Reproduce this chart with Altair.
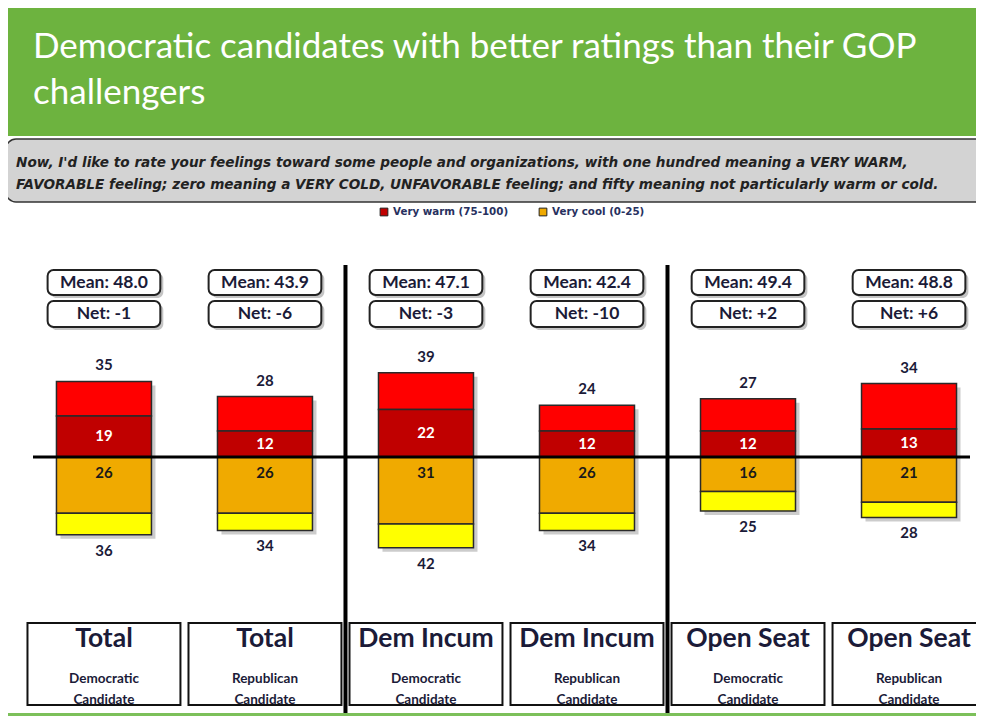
import altair as alt
import pandas as pd

# ---------------- data ----------------
groups = ["Total", "Total", "Dem Incum", "Dem Incum", "Open Seat", "Open Seat"]
candidates = ["Democratic", "Republican", "Democratic", "Republican", "Democratic", "Republican"]
cand_line2 = ["Candidate"] * 6
warm_total = [35, 28, 39, 24, 27, 34]
very_warm = [19, 12, 22, 12, 12, 13]
very_cool = [26, 26, 31, 26, 16, 21]
cool_total = [36, 34, 42, 34, 25, 28]
means = [48.0, 43.9, 47.1, 42.4, 49.4, 48.8]
nets = ["-1", "-6", "-3", "-10", "+2", "+6"]
separators = [1.5, 3.5]

title_lines = ["Democratic candidates with better ratings than their GOP", "challengers"]
subtitle_lines = [
    "Now, I'd like to rate your feelings toward some people and organizations, with one hundred meaning a VERY WARM,",
    "FAVORABLE feeling; zero meaning a VERY  COLD, UNFAVORABLE feeling; and fifty meaning not particularly warm or cold.",
]
legend_labels = ["Very warm (75-100)", "Very cool (0-25)"]
legend_colors = ["#c00000", "#f0aa00"]

# ---------------- layout ----------------
W, H = 968, 708
FONT = "Lato"
NAVY = "#1b1b38"

df = pd.DataFrame({
    "idx": list(range(6)),
    "group": groups,
    "cand": candidates,
    "cand2": cand_line2,
    "warm_total": warm_total,
    "very_warm": very_warm,
    "very_cool": very_cool,
    "cool_total": cool_total,
    "mean_label": ["Mean: %.1f" % m for m in means],
    "net_label": ["Net: " + n for n in nets],
})

xs = alt.Scale(domain=[-0.596, 5.416], nice=False, zero=False)
ys = alt.Scale(domain=[-119.9, 207.87], nice=False, zero=False)

base = alt.Chart(df).transform_calculate(
    xl="datum.idx - 0.295", xr="datum.idx + 0.295",
    ml="datum.idx - 0.35", mr="datum.idx + 0.35",
    bl="datum.idx - 0.475", br="datum.idx + 0.475",
    ncool="-datum.very_cool", ntot="-datum.cool_total",
    vwmid="datum.very_warm / 2", zero="0",
)

X = lambda f: alt.X(f, scale=xs, axis=None)
Y = lambda f: alt.Y(f, scale=ys, axis=None)

one = pd.DataFrame({"a": [0]})

header = alt.Chart(one).mark_rect(color="#6db33f").encode(
    x=alt.value(-4), x2=alt.value(W + 10), y=alt.value(0), y2=alt.value(128))

title_df = pd.DataFrame({"t": title_lines, "yy": [39, 85]})
title = alt.Chart(title_df).mark_text(
    align="left", baseline="middle", font=FONT, fontSize=35, color="white"
).encode(x=alt.value(25), y=alt.Y("yy:Q", scale=None, axis=None), text="t:N")

greybox = alt.Chart(one).mark_rect(
    fill="#d3d3d3", stroke="#333333", strokeWidth=1.5, cornerRadius=10
).encode(x=alt.value(-2), x2=alt.value(W + 20), y=alt.value(131), y2=alt.value(194))

sub_df = pd.DataFrame({"t": subtitle_lines, "yy": [155, 177]})
subtitle = alt.Chart(sub_df).mark_text(
    align="left", baseline="middle", font="DejaVu Sans", fontSize=13.6,
    fontStyle="italic", fontWeight="bold", color="#222222"
).encode(x=alt.value(8), y=alt.Y("yy:Q", scale=None, axis=None), text="t:N")

leg_df = pd.DataFrame({"lab": legend_labels, "col": legend_colors,
                       "sx": [376, 535], "tx": [385, 544]})
leg_sq = alt.Chart(leg_df).mark_square(size=60, stroke="#222", strokeWidth=1, opacity=1).encode(
    x=alt.X("sx:Q", scale=None, axis=None), y=alt.value(204),
    fill=alt.Fill("col:N", scale=None))
leg_tx = alt.Chart(leg_df).mark_text(
    align="left", baseline="middle", font="DejaVu Sans", fontSize=10.3,
    fontWeight="bold", color="#27305e"
).encode(x=alt.X("tx:Q", scale=None, axis=None), y=alt.value(204), text="lab:N")

# boxes for mean / net
def rbox(y0, y1):
    sh = base.mark_rect(fill="#555555", opacity=0.35, cornerRadius=6,
                        xOffset=3, x2Offset=3, yOffset=3, y2Offset=3).encode(
        x=X("ml:Q"), x2="mr:Q", y=alt.value(y0), y2=alt.value(y1))
    bx = base.mark_rect(fill="white", stroke="#222222", strokeWidth=2, cornerRadius=6).encode(
        x=X("ml:Q"), x2="mr:Q", y=alt.value(y0), y2=alt.value(y1))
    return [sh, bx]

mean_tx = base.mark_text(font=FONT, fontSize=17.5, fontWeight="bold", color=NAVY, baseline="middle").encode(
    x=X("idx:Q"), y=alt.value(274.5), text="mean_label:N")
net_tx = base.mark_text(font=FONT, fontSize=17.5, fontWeight="bold", color=NAVY, baseline="middle").encode(
    x=X("idx:Q"), y=alt.value(306), text="net_label:N")

# bars
bar_shadow = base.mark_rect(fill="#555555", opacity=0.3,
                            xOffset=4, x2Offset=4, yOffset=4, y2Offset=4).encode(
    x=X("xl:Q"), x2="xr:Q", y=Y("warm_total:Q"), y2="ntot:Q")

def seg(yf, y2f, color):
    return base.mark_rect(fill=color, stroke="#2a2a2a", strokeWidth=1.5).encode(
        x=X("xl:Q"), x2="xr:Q", y=Y(yf), y2=y2f)

s_red = seg("very_warm:Q", "warm_total:Q", "#ff0000")
s_dred = seg("zero:Q", "very_warm:Q", "#c00000")
s_orange = seg("zero:Q", "ncool:Q", "#f0aa00")
s_yellow = seg("ncool:Q", "ntot:Q", "#ffff00")

num = dict(font=FONT, fontSize=15, fontWeight="bold")
lab_top = base.mark_text(baseline="bottom", dy=-8, color=NAVY, **num).encode(
    x=X("idx:Q"), y=Y("warm_total:Q"), text="warm_total:Q")
lab_vw = base.mark_text(baseline="middle", color="white", **num).encode(
    x=X("idx:Q"), y=Y("vwmid:Q"), text="very_warm:Q")
lab_vc = base.mark_text(baseline="middle", dy=16, color="#1a1a1a", **num).encode(
    x=X("idx:Q"), y=Y("zero:Q"), text="very_cool:Q")
lab_bot = base.mark_text(baseline="top", dy=9, color=NAVY, **num).encode(
    x=X("idx:Q"), y=Y("ntot:Q"), text="cool_total:Q")

zero_df = pd.DataFrame({"z": [0]})
zero_line = alt.Chart(zero_df).mark_rule(color="black", strokeWidth=3).encode(
    y=Y("z:Q"), x=alt.value(25), x2=alt.value(962))

sep_df = pd.DataFrame({"s": separators})
sep = alt.Chart(sep_df).mark_rule(color="black", strokeWidth=4).encode(
    x=X("s:Q"), y=alt.value(257), y2=alt.value(708))

# bottom category boxes
cat_box = base.mark_rect(fill="white", stroke="#111111", strokeWidth=2).encode(
    x=X("bl:Q"), x2="br:Q", y=alt.value(615), y2=alt.value(697))
cat_tx = base.mark_text(font=FONT, fontSize=26.5, fontWeight="bold", color=NAVY, baseline="middle").encode(
    x=X("idx:Q"), y=alt.value(631), text="group:N")
cand_tx = base.mark_text(font=FONT, fontSize=13.5, fontWeight="bold", color=NAVY, baseline="middle").encode(
    x=X("idx:Q"), y=alt.value(671), text="cand:N")
cand2_tx = base.mark_text(font=FONT, fontSize=13.5, fontWeight="bold", color=NAVY, baseline="middle").encode(
    x=X("idx:Q"), y=alt.value(692), text="cand2:N")

bottom_green = alt.Chart(one).mark_rect(color="#7cc05a").encode(
    x=alt.value(-4), x2=alt.value(W + 10), y=alt.value(705), y2=alt.value(708))

layers = [header, title, greybox, subtitle, leg_sq, leg_tx]
layers += rbox(262, 287) + rbox(293, 319)
layers += [mean_tx, net_tx, bar_shadow, s_red, s_dred, s_orange, s_yellow,
           zero_line, sep, lab_top, lab_vw, lab_vc, lab_bot,
           cat_box, cat_tx, cand_tx, cand2_tx, bottom_green]

chart = alt.layer(*layers).properties(
    width=W, height=H, padding=0, autosize=alt.AutoSizeParams(type="none"),
    background="white",
).configure_view(stroke=None)

chart.save("out.html", embed_options={"renderer": "svg", "actions": False})
